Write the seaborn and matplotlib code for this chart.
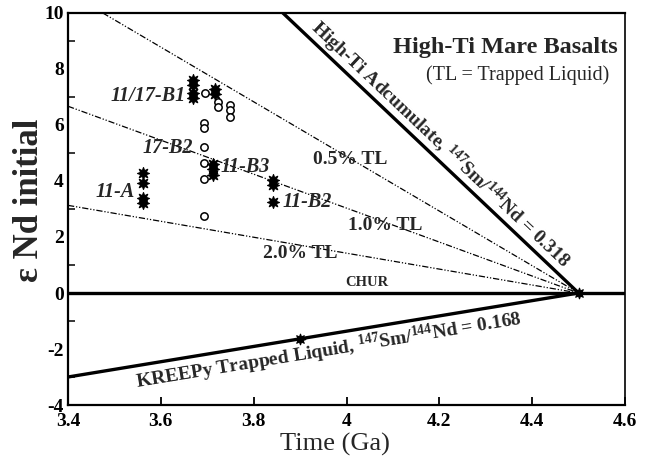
import numpy as np
import pandas as pd
import matplotlib
matplotlib.use("Agg")
import matplotlib.pyplot as plt
import seaborn as sns

# ---- data ----
star_x = [3.670, 3.670, 3.670, 3.670, 3.717, 3.717, 3.713, 3.713, 3.713,
          3.562, 3.562, 3.562, 3.562, 3.841, 3.841, 3.841]
star_y = [7.60, 7.43, 7.13, 6.95, 7.30, 7.10, 4.62, 4.42, 4.22,
          4.30, 3.92, 3.38, 3.20, 4.04, 3.86, 3.26]
circle_x = [3.695, 3.724, 3.724, 3.750, 3.750, 3.750, 3.693, 3.693,
            3.693, 3.693, 3.693, 3.693]
circle_y = [7.14, 6.83, 6.65, 6.71, 6.54, 6.30, 6.06, 5.88,
            5.22, 4.65, 4.06, 2.75]

chur_x, chur_y = [3.4, 4.6], [0.0, 0.0]
adcum_x, adcum_y = [3.863, 4.5], [10.0, 0.0]
kreep_x, kreep_y = [3.4, 4.5], [-3.0, 0.0]
tl05_x, tl05_y = [3.475, 4.5], [10.0, 0.0]
tl10_x, tl10_y = [3.4, 4.5], [6.67, 0.0]
tl20_x, tl20_y = [3.4, 4.5], [3.13, 0.0]
kreep_pt_x, kreep_pt_y = [3.9, 4.5], [-1.64, 0.0]

group_labels = ["11/17-B1", "17-B2", "11-B3", "11-A", "11-B2"]
group_lx = [3.572, 3.615, 3.781, 3.501, 3.915]
group_ly = [7.04, 5.18, 4.50, 3.60, 3.25]
tl_labels = ["0.5% TL", "1.0% TL", "2.0% TL"]
tl_lx = [4.008, 4.083, 3.900]
tl_ly = [4.75, 2.40, 1.40]
xticks = [3.4, 3.6, 3.8, 4.0, 4.2, 4.4, 4.6]
xtick_labels = ["3.4", "3.6", "3.8", "4", "4.2", "4.4", "4.6"]
yticks = [-4, -2, 0, 2, 4, 6, 8, 10]

# ---- style ----
sns.set_theme(style="white")
plt.rcParams['font.family'] = ['Liberation Serif', 'DejaVu Serif']
plt.rcParams['mathtext.fontset'] = 'custom'
plt.rcParams['mathtext.rm'] = 'Liberation Serif:bold'
plt.rcParams['mathtext.it'] = 'Liberation Serif:bold'
plt.rcParams['mathtext.bf'] = 'Liberation Serif:bold'

fig = plt.figure(figsize=(6.54, 4.59), dpi=100)
ax = fig.add_axes([68/654, 1-405/459, (625-68)/654, (405-13)/459])
ax.set_xlim(3.4, 4.6)
ax.set_ylim(-4, 10)

lw_thick = 2.4
for xs, ys in [(chur_x, chur_y), (adcum_x, adcum_y), (kreep_x, kreep_y)]:
    sns.lineplot(x=xs, y=ys, ax=ax, color='black', lw=lw_thick, sort=False)
for xs, ys in [(tl05_x, tl05_y), (tl10_x, tl10_y), (tl20_x, tl20_y)]:
    sns.lineplot(x=xs, y=ys, ax=ax, color='black', lw=0.9, sort=False,
                 dashes=False, linestyle=(0, (5, 1.5, 1, 1.5, 1, 1.5)))

sns.scatterplot(x=circle_x, y=circle_y, ax=ax, marker='o', s=28,
                facecolor='white', edgecolor='black', linewidth=1.1, zorder=5)
sns.scatterplot(x=star_x, y=star_y, ax=ax, marker=(8, 1, 0), s=75,
                color='black', edgecolor='black', linewidth=0.8, zorder=6)
sns.scatterplot(x=kreep_pt_x, y=kreep_pt_y, ax=ax, marker=(8, 1, 0), s=60,
                color='black', edgecolor='black', linewidth=0.8, zorder=6)

# ticks
ax.set_xticks(xticks)
ax.set_xticklabels(xtick_labels, fontsize=14, fontweight='bold')
ax.set_yticks(yticks)
ax.set_yticklabels([str(v) for v in yticks], fontsize=14, fontweight='bold')
ax.set_yticks([-3, -1, 1, 3, 5, 7, 9], minor=True)
ax.tick_params(axis='x', which='major', direction='in', length=6, width=1.3,
               bottom=True, pad=6, colors='black')
ax.tick_params(axis='y', which='major', direction='in', length=0, pad=3,
               left=True, colors='black')
ax.tick_params(axis='y', which='minor', direction='in', length=5, width=1.3,
               left=True)
for s in ax.spines.values():
    s.set_color('black')
    s.set_linewidth(1.6)
ax.spines['right'].set_linewidth(1.2)

ax.set_xlabel("Time (Ga)", fontsize=19)
ax.xaxis.set_label_coords(0.48, -0.072)
ax.set_ylabel("\u03b5 Nd initial", fontsize=25, fontweight='bold')
ax.yaxis.set_label_coords(-0.04, 0.523)

# labels
for t, x, y in zip(group_labels, group_lx, group_ly):
    ax.text(x, y, t, fontsize=14.5, fontweight='bold', style='italic',
            ha='center', va='center')
for t, x, y in zip(tl_labels, tl_lx, tl_ly):
    ax.text(x, y, t, fontsize=14, fontweight='bold', ha='center', va='center')
ax.text(4.044, 0.36, "CHUR", fontsize=10.5, fontweight='bold', ha='center', va='center')

ax.text(4.585, 8.75, "High-Ti Mare Basalts", fontsize=17.5, fontweight='bold',
        ha='right', va='center')
ax.text(4.565, 7.79, "(TL = Trapped Liquid)", fontsize=14.5, ha='right', va='center')

def line_angle(xs, ys):
    p = ax.transData.transform(np.column_stack([xs, ys]))
    return np.degrees(np.arctan2(p[1, 1]-p[0, 1], p[1, 0]-p[0, 0]))

ang_a = line_angle(adcum_x, adcum_y)
ax.text(4.184, 4.96, r"High-Ti Adcumulate, $^{147}$Sm/$^{144}$Nd = 0.318",
        fontsize=14, fontweight='bold', rotation=ang_a, rotation_mode='anchor',
        ha='center', va='bottom')

ang_k = line_angle(kreep_x, kreep_y)
ax.text(3.958, -1.62, r"KREEPy Trapped Liquid, $^{147}$Sm/$^{144}$Nd = 0.168",
        fontsize=14, fontweight='bold', rotation=ang_k, rotation_mode='anchor',
        ha='center', va='top')

fig.savefig("out.png", dpi=100)
